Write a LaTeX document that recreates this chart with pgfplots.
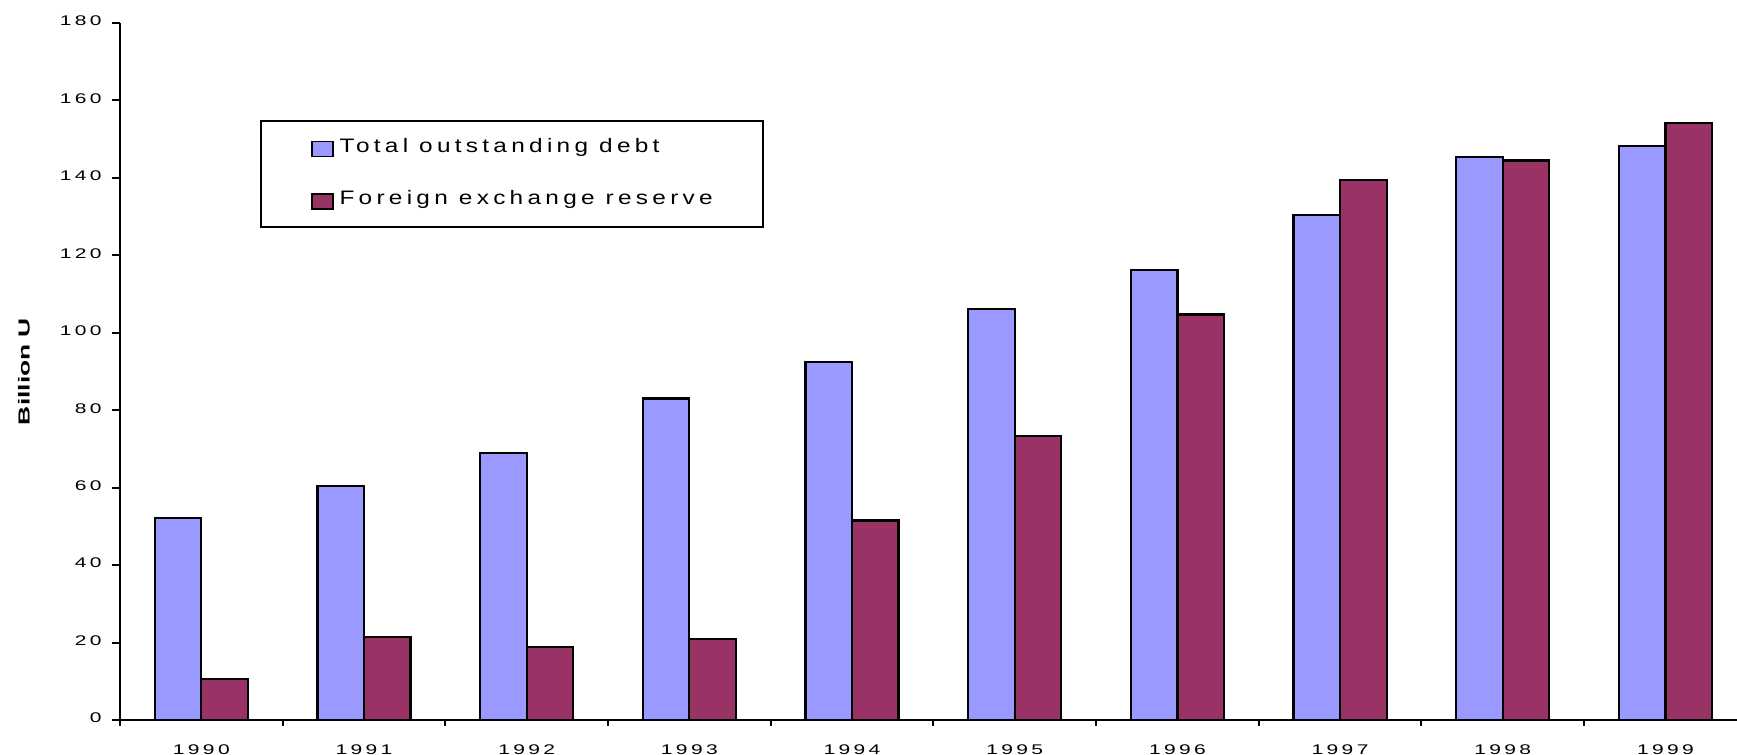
\documentclass[border=0pt]{standalone}
\usepackage{fontspec}
\setmainfont{Liberation Sans}
% wide-set faces used for the tick labels, legend and axis label
\newfontfamily\tickfont[FakeStretch=1.5,LetterSpace=24]{Liberation Sans}
\newfontfamily\legfont[FakeStretch=1.25,LetterSpace=22]{Liberation Sans}
\newfontfamily\labfont[FakeStretch=1.65]{Liberation Sans}
\usepackage{pgfplots}
\pgfplotsset{compat=1.18}

\definecolor{debtblue}{HTML}{9999FF}
\definecolor{reservered}{HTML}{993366}

\begin{document}
\begin{tikzpicture}
\useasboundingbox (-60pt,-17.5pt) rectangle (808.5pt,360pt);
\begin{axis}[
  at={(0,0)}, anchor=south west,
  scale only axis,
  width=808.5pt, height=348.5pt,
  xmin=-0.5, xmax=9.44,
  ymin=0, ymax=180,
  axis x line*=bottom, axis y line*=left,
  axis line style={-, line width=1pt, black},
  ytick={0,20,...,180},
  xtick={0,...,9},
  xticklabels={1990,1991,1992,1993,1994,1995,1996,1997,1998,1999},
  minor xtick={-0.5,0.5,...,9.5},
  tick align=outside,
  major tick length=4pt, minor tick length=3pt,
  major x tick style={draw=none},
  minor x tick style={line width=1pt, black},
  ytick style={line width=1pt, black},
  /pgf/number format/assume math mode=true,
  tick label style={font=\tickfont\fontsize{7pt}{8.5pt}\selectfont},
  yticklabel style={inner sep=0pt, xshift=-5pt, yshift=1pt},
  xticklabel style={inner sep=0pt, yshift=-8pt},
  every axis y label/.style={at={(axis description cs:0,0.5)}, xshift=-48pt,
    rotate=90, anchor=center,
    font=\labfont\bfseries\fontsize{8pt}{9.5pt}\selectfont},
  ylabel={Billion U},
  ybar=0pt, bar width=0.286,
  legend style={at={(0.0866,0.8608)}, anchor=north west,
    draw=black, line width=1pt,
    inner xsep=25pt, inner ysep=8.5pt, row sep=16.5pt,
    font=\legfont\fontsize{9.75pt}{11pt}\selectfont,
    nodes={inner sep=0pt, text height=7pt, text depth=0pt}},
  legend cell align=left,
  legend image code/.code={%
    \draw[#1, draw=black, line width=0.75pt] (0pt,-5.75pt) rectangle (10.5pt,1.75pt);},
]
\addplot[fill=debtblue, draw=black, line width=1.1pt, bar shift=-0.143]
  coordinates {(0,52.1) (1,60.4) (2,69.0) (3,83.0) (4,92.4)
               (5,106.2) (6,116.2) (7,130.5) (8,145.4) (9,148.2)};
\addlegendentry{\hspace*{3pt}Total outstanding debt}
\addplot[fill=reservered, draw=black, line width=1.1pt, bar shift=0.143]
  coordinates {(0,10.6) (1,21.5) (2,18.9) (3,20.9) (4,51.5)
               (5,73.3) (6,104.7) (7,139.4) (8,144.5) (9,154.2)};
\addlegendentry{\hspace*{3pt}Foreign exchange reserve}
\end{axis}
\end{tikzpicture}
\end{document}
